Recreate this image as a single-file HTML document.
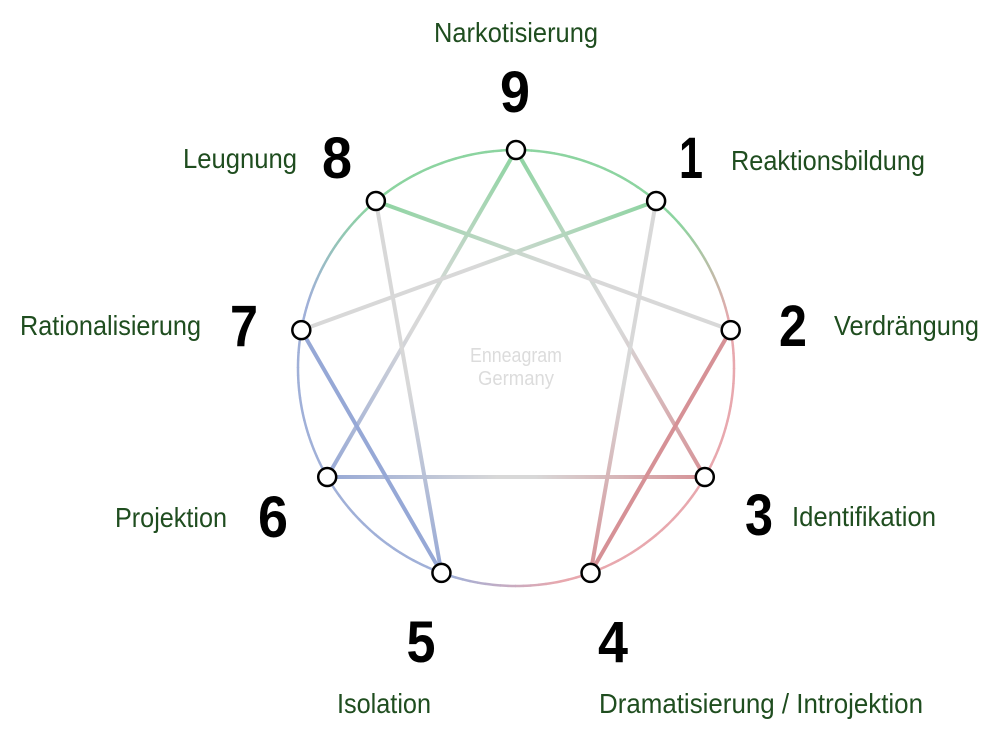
<!DOCTYPE html>
<html><head><meta charset="utf-8"><style>
html,body{margin:0;padding:0;background:#fff;width:1000px;height:740px;overflow:hidden}
svg{display:block}
.l{font-family:"Liberation Sans Narrow","Liberation Sans",sans-serif;font-size:28px;fill:#1f4d1f}
.n{font-family:"Liberation Sans Narrow","Liberation Sans",sans-serif;font-size:58px;font-weight:bold;fill:#000}
</style></head><body>
<svg id="s" width="1000" height="740" viewBox="0 0 1000 740">
<defs id="d"></defs>
<g id="arc"></g>
<g id="lines"></g>
<text x="516" y="362" text-anchor="middle" font-family="Liberation Sans Narrow, Liberation Sans, sans-serif" font-size="20" fill="#dcdcdc" textLength="92" lengthAdjust="spacingAndGlyphs">Enneagram</text>
<text x="516" y="385" text-anchor="middle" font-family="Liberation Sans Narrow, Liberation Sans, sans-serif" font-size="20" fill="#dcdcdc" textLength="76" lengthAdjust="spacingAndGlyphs">Germany</text>
<g id="nodes"></g>
<text class="l" x="516" y="42" text-anchor="middle" textLength="164" lengthAdjust="spacingAndGlyphs">Narkotisierung</text>
<text class="l" x="183" y="168" textLength="114" lengthAdjust="spacingAndGlyphs">Leugnung</text>
<text class="l" x="731" y="170" textLength="194" lengthAdjust="spacingAndGlyphs">Reaktionsbildung</text>
<text class="l" x="20" y="335" textLength="181" lengthAdjust="spacingAndGlyphs">Rationalisierung</text>
<text class="l" x="834" y="335" textLength="145" lengthAdjust="spacingAndGlyphs">Verdrängung</text>
<text class="l" x="115" y="527" textLength="112" lengthAdjust="spacingAndGlyphs">Projektion</text>
<text class="l" x="792" y="526" textLength="144" lengthAdjust="spacingAndGlyphs">Identifikation</text>
<text class="l" x="337" y="713" textLength="94" lengthAdjust="spacingAndGlyphs">Isolation</text>
<text class="l" x="599" y="713" textLength="324" lengthAdjust="spacingAndGlyphs">Dramatisierung / Introjektion</text>
<text class="n" x="515" y="112" text-anchor="middle" textLength="30" lengthAdjust="spacingAndGlyphs">9</text>
<text class="n" x="337" y="178" text-anchor="middle" textLength="30" lengthAdjust="spacingAndGlyphs">8</text>
<text class="n" x="691" y="178" text-anchor="middle" textLength="24" lengthAdjust="spacingAndGlyphs">1</text>
<text class="n" x="244" y="346" text-anchor="middle" textLength="28" lengthAdjust="spacingAndGlyphs">7</text>
<text class="n" x="793" y="346" text-anchor="middle" textLength="28" lengthAdjust="spacingAndGlyphs">2</text>
<text class="n" x="273" y="537" text-anchor="middle" textLength="30" lengthAdjust="spacingAndGlyphs">6</text>
<text class="n" x="759" y="535" text-anchor="middle" textLength="28" lengthAdjust="spacingAndGlyphs">3</text>
<text class="n" x="421" y="662" text-anchor="middle" textLength="29" lengthAdjust="spacingAndGlyphs">5</text>
<text class="n" x="613" y="662" text-anchor="middle" textLength="30" lengthAdjust="spacingAndGlyphs">4</text>
</svg>
<script>
var NS="http://www.w3.org/2000/svg",cx=516,cy=368,R=218;
function P(k){var a=(k%9)*40*Math.PI/180;return [cx+R*Math.sin(a),cy-R*Math.cos(a)];}
var G=[140,212,160],K=[232,168,174],B=[160,176,216];
function mix(a,b,t){return [0,1,2].map(function(i){return Math.round(a[i]+(b[i]-a[i])*t)});}
function arcCol(th){th=((th%360)+360)%360;
 var cs=[[0,G],[120,K],[240,B],[360,G]];
 for(var i=0;i<3;i++){var a=cs[i][0],b=cs[i+1][0];if(th>=a&&th<=b){var t=(th-a)/(b-a);
  t=Math.min(1,Math.max(0,(t-0.4)/0.25));return mix(cs[i][1],cs[i+1][1],t);}}
 return G;}
function rgb(c){return "rgb("+c.join(",")+")";}
var arc=document.getElementById("arc");
for(var d=0;d<360;d+=2){var a1=d*Math.PI/180,a2=(d+2.2)*Math.PI/180;
 var p=document.createElementNS(NS,"path");
 p.setAttribute("d","M"+(cx+R*Math.sin(a1))+" "+(cy-R*Math.cos(a1))+" A"+R+" "+R+" 0 0 1 "+(cx+R*Math.sin(a2))+" "+(cy-R*Math.cos(a2)));
 p.setAttribute("stroke",rgb(arcCol(d+1)));p.setAttribute("stroke-width","2.5");p.setAttribute("fill","none");arc.appendChild(p);}
function nc(k){k=k%9;if(k==0||k==8||k==1)return [140,212,160];if(k>=2&&k<=4)return [214,145,150];return [150,168,214];}
var GR=[216,216,216];
var defs=document.getElementById("d"),L=document.getElementById("lines");
// type: 'b' both ends, 's' solid, 'e' end-only
var E=[[9,3,'b'],[9,6,'b'],[3,6,'b'],[4,2,'s'],[5,7,'s'],[1,4,'e'],[2,8,'e'],[8,5,'e'],[7,1,'e']];
E.forEach(function(e,i){var a=P(e[0]),b=P(e[1]);
 var g=document.createElementNS(NS,"linearGradient");g.setAttribute("id","g"+i);g.setAttribute("gradientUnits","userSpaceOnUse");
 g.setAttribute("x1",a[0]);g.setAttribute("y1",a[1]);g.setAttribute("x2",b[0]);g.setAttribute("y2",b[1]);
 var stops;
 if(e[2]=='b')stops=[[0,nc(e[0])],[0.45,GR],[0.55,GR],[1,nc(e[1])]];
 else if(e[2]=='s')stops=[[0,nc(e[0])],[1,nc(e[1])]];
 else stops=[[0,GR],[0.5,GR],[1,nc(e[1])]];
 stops.forEach(function(s){var st=document.createElementNS(NS,"stop");st.setAttribute("offset",s[0]);st.setAttribute("stop-color",rgb(s[1]));g.appendChild(st);});
 defs.appendChild(g);
 var l=document.createElementNS(NS,"line");l.setAttribute("x1",a[0]);l.setAttribute("y1",a[1]);l.setAttribute("x2",b[0]);l.setAttribute("y2",b[1]);
 l.setAttribute("stroke","url(#g"+i+")");l.setAttribute("stroke-width","4");L.appendChild(l);});
var N=document.getElementById("nodes");
for(var k=1;k<=9;k++){var p=P(k),c=document.createElementNS(NS,"circle");c.setAttribute("cx",p[0]);c.setAttribute("cy",p[1]);c.setAttribute("r","9");c.setAttribute("fill","#fff");c.setAttribute("stroke","#000");c.setAttribute("stroke-width","2.5");N.appendChild(c);}
</script>
</body></html>
